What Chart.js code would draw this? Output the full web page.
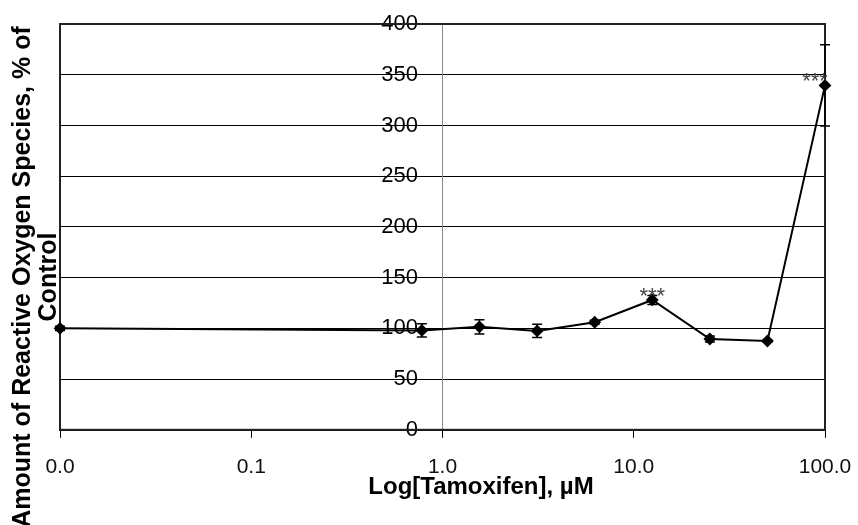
<!DOCTYPE html>
<html lang="en">
  <head>
    <meta charset="UTF-8" />
    <script src="https://cdn.jsdelivr.net/npm/chart.js"></script>
    <title>ROS vs Tamoxifen</title>
    <style>
      body { margin: 0; background: #fff; }
    </style>
  </head>
  <body>
    <div style="width: 858px; height: 525px">
      <canvas id="grafico" width="858" height="525"></canvas>
    </div>

    <script>
      // data (0.01 = control, shown as "0.0")
      const concentrations = [0.01, 0.78, 1.56, 3.125, 6.25, 12.5, 25, 50, 100];
      const rosValues = [100, 98, 101.5, 97.5, 106, 128, 89.5, 87.5, 339.5];
      const rosErrors = [2, 6.5, 7, 6.5, 2, 4.5, 3, 1, 40];
      const significance = ["", "", "", "", "", "***", "", "", "***"];
      const xTickValues = [0.01, 0.1, 1, 10, 100];
      const yMin = 0, yMax = 400, yStep = 50;

      const FONT = "'Liberation Sans', Arial, sans-serif";
      const GAP = "\u00A0\u00A0\u00A0\u00A0"; // room between y labels and the axis

      // let layout.padding alone decide the plot box
      const noOverhang = (scale) => {
        scale.paddingLeft = 0;
        scale.paddingRight = 0;
        scale.paddingTop = 0;
        scale.paddingBottom = 0;
      };

      // error bars, stars, frame and axis titles
      const extras = {
        id: "extras",
        beforeDatasetsDraw(chart) {
          const { ctx, chartArea: a } = chart;
          ctx.save();
          ctx.strokeStyle = "#222";
          ctx.lineWidth = 2;
          ctx.strokeRect(a.left, a.top, a.right - a.left, a.bottom - a.top);
          ctx.restore();
        },
        afterDatasetsDraw(chart) {
          const { ctx, scales, chartArea: a } = chart;
          const xs = scales.x, ys = scales.y;
          ctx.save();
          ctx.strokeStyle = "#000";
          ctx.lineWidth = 1.5;
          concentrations.forEach((c, i) => {
            const px = xs.getPixelForValue(c);
            const top = ys.getPixelForValue(rosValues[i] + rosErrors[i]);
            const bot = ys.getPixelForValue(rosValues[i] - rosErrors[i]);
            ctx.beginPath();
            ctx.moveTo(px, top); ctx.lineTo(px, bot);
            ctx.moveTo(px - 5, top); ctx.lineTo(px + 5, top);
            ctx.moveTo(px - 5, bot); ctx.lineTo(px + 5, bot);
            ctx.stroke();
          });
          ctx.fillStyle = "#444";
          ctx.font = "22px " + FONT;
          ctx.textAlign = "center";
          ctx.textBaseline = "alphabetic";
          significance.forEach((s, i) => {
            if (!s) return;
            let px = xs.getPixelForValue(concentrations[i]);
            px = Math.min(px, a.right - 10);
            const py = ys.getPixelForValue(rosValues[i]);
            ctx.fillText(s, px, py + 3);
          });
          ctx.restore();
        },
        afterDraw(chart) {
          const { ctx } = chart;
          ctx.save();
          ctx.fillStyle = "#000";
          ctx.textAlign = "center";
          ctx.textBaseline = "middle";
          ctx.font = "bold 24px " + FONT;
          ctx.fillText("Log[Tamoxifen], µM", 481, 487);
          ctx.translate(23, 277);
          ctx.rotate(-Math.PI / 2);
          ctx.font = "bold 25px " + FONT;
          ctx.fillText("Amount of Reactive Oxygen Species, % of", 0, 0);
          ctx.fillText("Control", 0, 26);
          ctx.restore();
        },
      };

      const ctx = document.getElementById("grafico");
      const grafico = new Chart(ctx, {
        type: "line",
        data: {
          datasets: [
            {
              data: concentrations.map((c, i) => ({ x: c, y: rosValues[i] })),
              borderColor: "#000",
              borderWidth: 2,
              backgroundColor: "#000",
              pointStyle: "rectRot",
              pointRadius: 5,
              pointBackgroundColor: "#000",
              pointBorderColor: "#000",
              tension: 0,
              clip: false,
            },
          ],
        },
        options: {
          responsive: false,
          devicePixelRatio: 1,
          animation: false,
          layout: { padding: { left: 60, right: 33, top: 24, bottom: 28 } },
          plugins: { legend: { display: false }, tooltip: { enabled: false } },
          scales: {
            x: {
              type: "logarithmic",
              min: 0.01,
              max: 100,
              afterBuildTicks: (scale) => {
                scale.ticks = xTickValues.map((v) => ({ value: v }));
              },
              afterFit: noOverhang,
              ticks: {
                autoSkip: false,
                maxRotation: 0,
                padding: 17,
                color: "#111",
                font: { family: FONT, size: 21 },
                callback: (v) => Number(v).toFixed(1),
              },
              grid: { drawOnChartArea: false, tickLength: 8, color: "#000", lineWidth: 1 },
              border: { display: true, color: "#000", width: 2 },
            },
            y: {
              position: { x: 1 },
              min: yMin,
              max: yMax,
              afterFit: noOverhang,
              ticks: {
                stepSize: yStep,
                color: "#000",
                font: { family: FONT, size: 22 },
                callback: (v) => v + GAP,
              },
              grid: { color: "#000", lineWidth: 1, drawTicks: false },
              border: { display: true, color: "#888", width: 1 },
            },
          },
        },
        plugins: [extras],
      });
    </script>
  </body>
</html>
